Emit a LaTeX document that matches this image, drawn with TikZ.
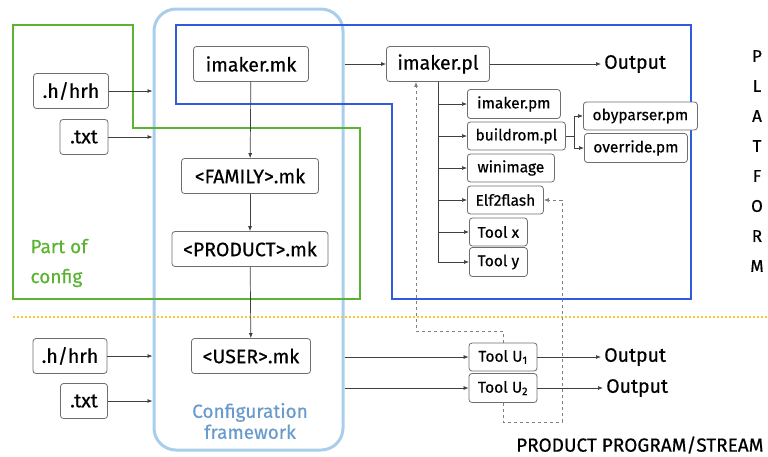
\documentclass[tikz,border=0pt]{standalone}
\usepackage{fontspec}
\setmainfont{Fira Sans}[FakeBold=0.5]
\usetikzlibrary{arrows.meta}

\definecolor{cfgblue}{RGB}{168,206,236}
\definecolor{cfgtext}{RGB}{105,155,205}
\definecolor{platblue}{RGB}{50,90,220}
\definecolor{cfggreen}{RGB}{90,180,50}
\definecolor{dotorange}{RGB}{245,200,60}
\definecolor{boxgray}{RGB}{110,110,110}

\tikzset{
	file/.style={draw=boxgray, rounded corners=3pt, fill=white, line width=0.8pt,
		minimum height=35pt, inner sep=0pt, font=\fontsize{19.5}{19.5}\selectfont},
	tool/.style={file, minimum height=28pt, font=\fontsize{15.5}{15.5}\selectfont},
	outtext/.style={inner sep=3pt, anchor=west, font=\fontsize{19.5}{19.5}\selectfont},
	link/.style={-{Latex[length=5pt,width=4pt]}, line width=0.7pt, draw=black!75},
	dashlink/.style={link, dashed, draw=gray},
	side/.style={font=\fontsize{17}{17}\selectfont},
}

\begin{document}
\begin{tikzpicture}[x=1pt,y=-1pt]
	\useasboundingbox (0,0) rectangle (768,456);

	% configuration framework frame
	\node[draw=cfgblue, line width=3pt, rounded corners=22pt, minimum width=189pt, minimum height=441pt, inner sep=0pt] (cfg) at (248.5,229.5) {};
	\node[text=cfgtext, align=center, font=\fontsize{19}{21}\selectfont] (cfgname) at (250,421) {Configuration\\framework};

	\draw[platblue, line width=1.5pt] (176,25)--(691,25)--(691,299)--(392,299)--(392,104)--(176,104)--cycle; % platform
	\draw[cfggreen, line width=1.5pt] (13,25)--(133,25)--(133,128)--(360,128)--(360,299)--(13,299)--cycle; % part of config
	\draw[dotorange, line width=1.6pt, dash pattern=on 1.6pt off 2.4pt] (13,317)--(768,317); % split

	\node[text=cfggreen, align=left, anchor=west, font=\fontsize{19}{30}\selectfont] (part) at (27,263) {Part of\\config};

	% make files
	\node[file, minimum width=115pt] (imk) at (251,64) {imaker.mk};
	\node[file, minimum width=137pt] (fam) at (250,176) {<FAMILY>.mk};
	\node[file, minimum width=156pt] (prod) at (250,249) {<PRODUCT>.mk};
	\node[file, minimum width=119pt] (user) at (251,356) {<USER>.mk};

	% inputs
	\node[file, minimum width=75pt] (hrh1) at (71,91) {.h/hrh};
	\node[file, minimum width=48pt] (txt1) at (84,137) {.txt};
	\node[file, minimum width=74pt] (hrh2) at (70,356) {.h/hrh};
	\node[file, minimum width=47pt] (txt2) at (84,401) {.txt};

	% tools
	\node[file, minimum width=103pt] (impl) at (438,64) {imaker.pl};
	\node[tool, anchor=west, minimum width=93pt, minimum height=29pt] (impm) at (467,104) {imaker.pm};
	\node[tool, anchor=west, minimum width=98pt] (bld) at (467,136) {buildrom.pl};
	\node[tool, anchor=west, minimum width=87pt] (wini) at (467,168) {winimage};
	\node[tool, anchor=west, minimum width=76pt] (elf) at (467,200) {Elf2flash};
	\node[tool, anchor=west, minimum width=58pt] (toolx) at (469,232) {Tool x};
	\node[tool, anchor=west, minimum width=58pt, minimum height=29pt] (tooly) at (469,262) {Tool y};
	\node[tool, anchor=west, minimum width=114pt] (oby) at (583,116) {obyparser.pm};
	\node[tool, anchor=west, minimum width=103pt, minimum height=29pt] (ovr) at (584,148) {override.pm};
	\node[tool, minimum width=68pt] (tu1) at (503,357) {Tool U\textsubscript{1}};
	\node[tool, minimum width=68pt, minimum height=29pt] (tu2) at (503,388) {Tool U\textsubscript{2}};

	\node[outtext] (out1) at (601,64) {Output};
	\node[outtext] (out2) at (601,357) {Output};
	\node[outtext] (out3) at (603,388) {Output};

	% side labels
	\foreach \l [count=\i from 0] in {P,L,A,T,F,O,R,M}
		\node[side] (plat\i) at (757,56+30*\i) {\l};
	\node[side, font=\fontsize{19}{19}\selectfont, anchor=east] (stream) at (767,445) {PRODUCT PROGRAM/STREAM};

	% connectors
	\draw[link] (imk) -- (fam);
	\draw[link] (fam) -- (prod);
	\draw[link] (prod) -- (user);
	\foreach \n in {hrh1,txt1,hrh2,txt2}
		\draw[link] (\n) -- (\n -| cfg.west);
	\draw[link] (impl.west -| cfg.east) -- (impl.west);
	\draw[link] (tu1.west -| cfg.east) -- (tu1.west);
	\draw[link] (tu2.west -| cfg.east) -- (tu2.west);
	\draw[link] (impl) -- (out1);
	\draw[link] (tu1) -- (out2);
	\draw[link] (tu2) -- (out3);

	\draw[link, -] (impl.south) -- (impl.south |- tooly.west);
	\foreach \n in {impm,bld,wini,elf,toolx,tooly}
		\draw[link] (impl.south |- \n.west) -- (\n.west);
	\draw[link, -] (bld.east) -- ++(9,0) coordinate (bsplit);
	\draw[link] (bsplit) |- (oby.west);
	\draw[link] (bsplit) |- (ovr.west);

	\coordinate (dleft) at (416,331);
	\coordinate (dright) at (562,422);
	\draw[dashlink] (tu1.north) |- (dleft) -- (dleft |- impl.south);
	\draw[dashlink] (tu2.south) |- (dright) |- (elf.east);
\end{tikzpicture}
\end{document}
